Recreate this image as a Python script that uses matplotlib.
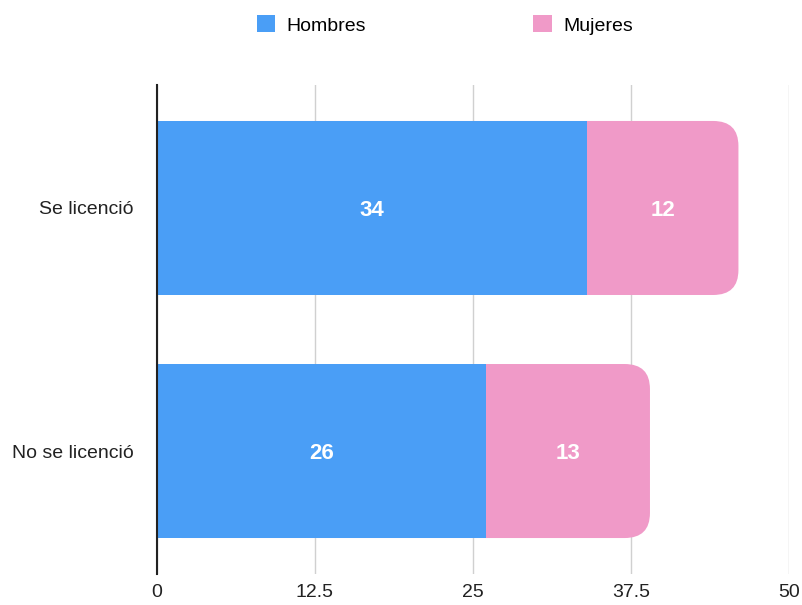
import matplotlib
matplotlib.use('Agg')
import matplotlib.pyplot as plt
from matplotlib.patches import FancyBboxPatch, Patch

categories = ['Se licenció', 'No se licenció']
hombres = [34, 26]
mujeres = [12, 13]
xticks = [0, 12.5, 25, 37.5, 50]

blue = '#4A9EF6'
pink = '#F09AC8'

plt.rcParams['font.family'] = ['Liberation Sans', 'DejaVu Sans']

fig = plt.figure(figsize=(8.03, 6.05), dpi=100)
ax = fig.add_axes([157/803, 1 - 574/605, 632/803, 489/605])

y = list(range(len(categories)))
height = 0.716

# pink segment drawn as a rounded box from 0 to the total, blue bar covers the left part
for yi, h, m in zip(y, hombres, mujeres):
    total = h + m
    box = FancyBboxPatch((0, yi - height/2), total, height,
                         boxstyle='round,pad=0,rounding_size=2.0',
                         mutation_aspect=0.0514,
                         facecolor=pink, edgecolor='none', zorder=2)
    ax.add_patch(box)
    ax.text(h + m/2, yi, str(m), ha='center', va='center_baseline', color='white',
            fontsize=16, fontweight='bold', zorder=4)

bars = ax.barh(y, hombres, height, color=blue, zorder=3)
for rect, h in zip(bars, hombres):
    ax.text(h/2, rect.get_y() + rect.get_height()/2, str(h), ha='center', va='center_baseline',
            color='white', fontsize=16, fontweight='bold', zorder=4)

ax.set_xlim(0, 50)
ax.set_ylim(1.506, -0.506)
ax.set_xticks(xticks)
ax.set_xticklabels(['0', '12.5', '25', '37.5', '50'])
ax.set_yticks(y)
ax.set_yticklabels(categories)
ax.tick_params(axis='both', length=0, labelsize=14, colors='#222222')
ax.tick_params(axis='x', pad=7)
ax.tick_params(axis='y', pad=17)

ax.grid(axis='x', color='#d0d0d0', linewidth=1, zorder=0)
for s in ['top', 'right', 'bottom']:
    ax.spines[s].set_visible(False)
ax.spines['left'].set_color('#222222')
ax.spines['left'].set_linewidth(1.5)
ax.spines['left'].set_zorder(5)

handles = [Patch(facecolor=blue, label='Hombres'), Patch(facecolor=pink, label='Mujeres')]
fig.legend(handles=handles, loc='center', bbox_to_anchor=(445/803, 1 - 25/605), ncol=2,
           frameon=False, fontsize=14, handlelength=0.95, handleheight=0.95,
           handletextpad=0.6, columnspacing=8.6)

fig.savefig('out.png', dpi=100)
